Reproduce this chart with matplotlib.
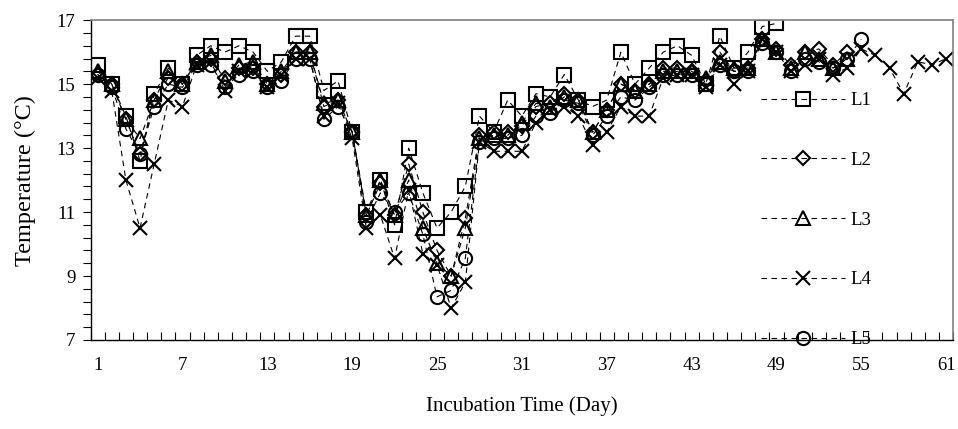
import numpy as np
import matplotlib
matplotlib.use("Agg")
import matplotlib.pyplot as plt
from matplotlib.ticker import FixedLocator

plt.rcParams['font.family'] = ['Liberation Serif', 'DejaVu Serif']

nan = np.nan
days = np.arange(1, 62)

# temperature readings (degC), one list per series
L1 = [15.6, 15.0, 14.0, 12.6, 14.7, 15.5, 15.0, 15.9, 16.2, 16.0,
      16.2, 16.0, 15.4, 15.7, 16.5, 16.5, 14.8, 15.1, 13.5, 11.0,
      12.0, 10.6, 13.0, 11.6, 10.5, 11.0, 11.8, 14.0, 13.5, 14.5,
      14.0, 14.7, 14.6, 15.3, 14.5, 14.3, 14.5, 16.0, 15.0, 15.5,
      16.0, 16.2, 15.9, 15.0, 16.5, 15.5, 16.0, 16.8, 16.9]
L2 = [15.3, 15.0, 13.9, 12.8, 14.5, 15.2, 15.0, 15.7, 15.8, 15.2,
      15.5, 15.5, 15.0, 15.3, 16.0, 16.0, 14.3, 14.5, 13.5, 10.9,
      11.9, 10.9, 12.5, 11.0, 9.8, 9.0, 10.8, 13.4, 13.5, 13.5,
      13.7, 14.3, 14.4, 14.7, 14.5, 13.5, 14.2, 15.0, 14.8, 15.0,
      15.5, 15.5, 15.4, 15.1, 16.0, 15.4, 15.5, 16.4, 16.1, 15.6,
      16.0, 16.1, 15.6, 16.0]
L3 = [15.4, 15.0, 13.9, 13.3, 14.5, 15.4, 15.0, 15.7, 15.9, 15.1,
      15.6, 15.7, 15.0, 15.4, 16.0, 16.0, 14.4, 14.5, 13.5, 10.9,
      12.0, 10.9, 12.0, 10.5, 9.4, 9.0, 10.5, 13.3, 13.4, 13.4,
      13.8, 14.4, 14.3, 14.6, 14.5, 13.5, 14.2, 15.0, 14.8, 15.0,
      15.4, 15.4, 15.4, 15.2, 15.7, 15.5, 15.5, 16.4, 16.0, 15.5,
      16.0, 15.8, 15.5, 15.8]
L4 = [15.2, 14.8, 12.0, 10.5, 12.5, 14.5, 14.3, 15.6, 15.7, 14.8,
      15.4, 15.4, 14.9, 15.3, 15.8, 15.8, 14.0, 14.4, 13.3, 10.5,
      10.9, 9.55, 11.7, 9.7, 9.35, 8.0, 8.8, 13.2, 12.9, 12.9,
      12.9, 13.8, 14.2, 14.3, 14.0, 13.1, 13.5, 14.3, 14.0, 14.0,
      15.2, 15.3, 15.3, 14.9, 15.6, 15.0, 15.4, 16.4, 16.0, 15.4,
      15.6, 15.8, 15.3, 15.5, 16.1, 15.9, 15.5, 14.7, 15.7, 15.6,
      15.8]
L5 = [15.3, 14.9, 13.6, 12.8, 14.3, 15.0, 14.9, 15.6, 15.6, 14.9,
      15.3, 15.4, 14.9, 15.1, 15.8, 15.8, 13.9, 14.3, 13.5, 10.7,
      11.6, 11.0, 11.6, 10.3, 8.35, 8.55, 9.55, 13.2, 13.3, 13.3,
      13.4, 14.0, 14.1, 14.5, 14.4, 13.4, 14.0, 14.6, 14.5, 14.9,
      15.3, 15.3, 15.3, 15.0, 15.6, 15.4, 15.4, 16.3, 16.0, 15.4,
      15.8, 15.7, 15.5, 15.8, 16.4]

series = [("L1", L1, "s", 9.5), ("L2", L2, "D", 7), ("L3", L3, "^", 10),
          ("L4", L4, "x", 10), ("L5", L5, "o", 9.5)]

fig = plt.figure(figsize=(9.58, 4.29), dpi=100)
ax = fig.add_axes([0.0945, 0.2075, 0.9005, 0.7455])

for name, vals, mk, ms in series:
    ax.plot(days[:len(vals)], vals, linestyle=(0, (5, 4)), color='k', lw=0.8,
            marker=mk, markersize=ms, markerfacecolor='none',
            markeredgecolor='k', markeredgewidth=1.5, label=name)

ax.set_xlim(0.5, 61.5)
ax.set_ylim(7, 17)
ax.xaxis.set_major_locator(FixedLocator(np.arange(1, 62, 6)))
ax.xaxis.set_minor_locator(FixedLocator(np.arange(0.5, 62, 1)))
ax.tick_params(axis='x', which='major', length=0, pad=12, labelsize=13.5)
ax.tick_params(axis='x', which='minor', direction='in', length=6, width=0.8)
ax.yaxis.set_major_locator(FixedLocator(np.arange(7, 18, 2)))
ax.yaxis.set_minor_locator(FixedLocator(np.arange(7, 17.01, 0.4)))
ax.tick_params(axis='y', which='both', direction='out', length=6, width=0.8,
               labelsize=13.5, pad=5)
for s in ['top', 'right']:
    ax.spines[s].set_color('#808080')
    ax.spines[s].set_linewidth(1.2)
for s in ['left', 'bottom']:
    ax.spines[s].set_linewidth(1.0)

ax.set_ylabel('Temperature (°C)', fontsize=17.5, labelpad=15)
ax.set_xlabel('Incubation Time (Day)', fontsize=15, labelpad=16)

ax.legend(loc='upper left', bbox_to_anchor=(0.766, 0.804), frameon=False,
          handlelength=4.5, handletextpad=0.3, labelspacing=2.27,
          fontsize=13.5, borderpad=0)

fig.savefig('out.png', dpi=100)
